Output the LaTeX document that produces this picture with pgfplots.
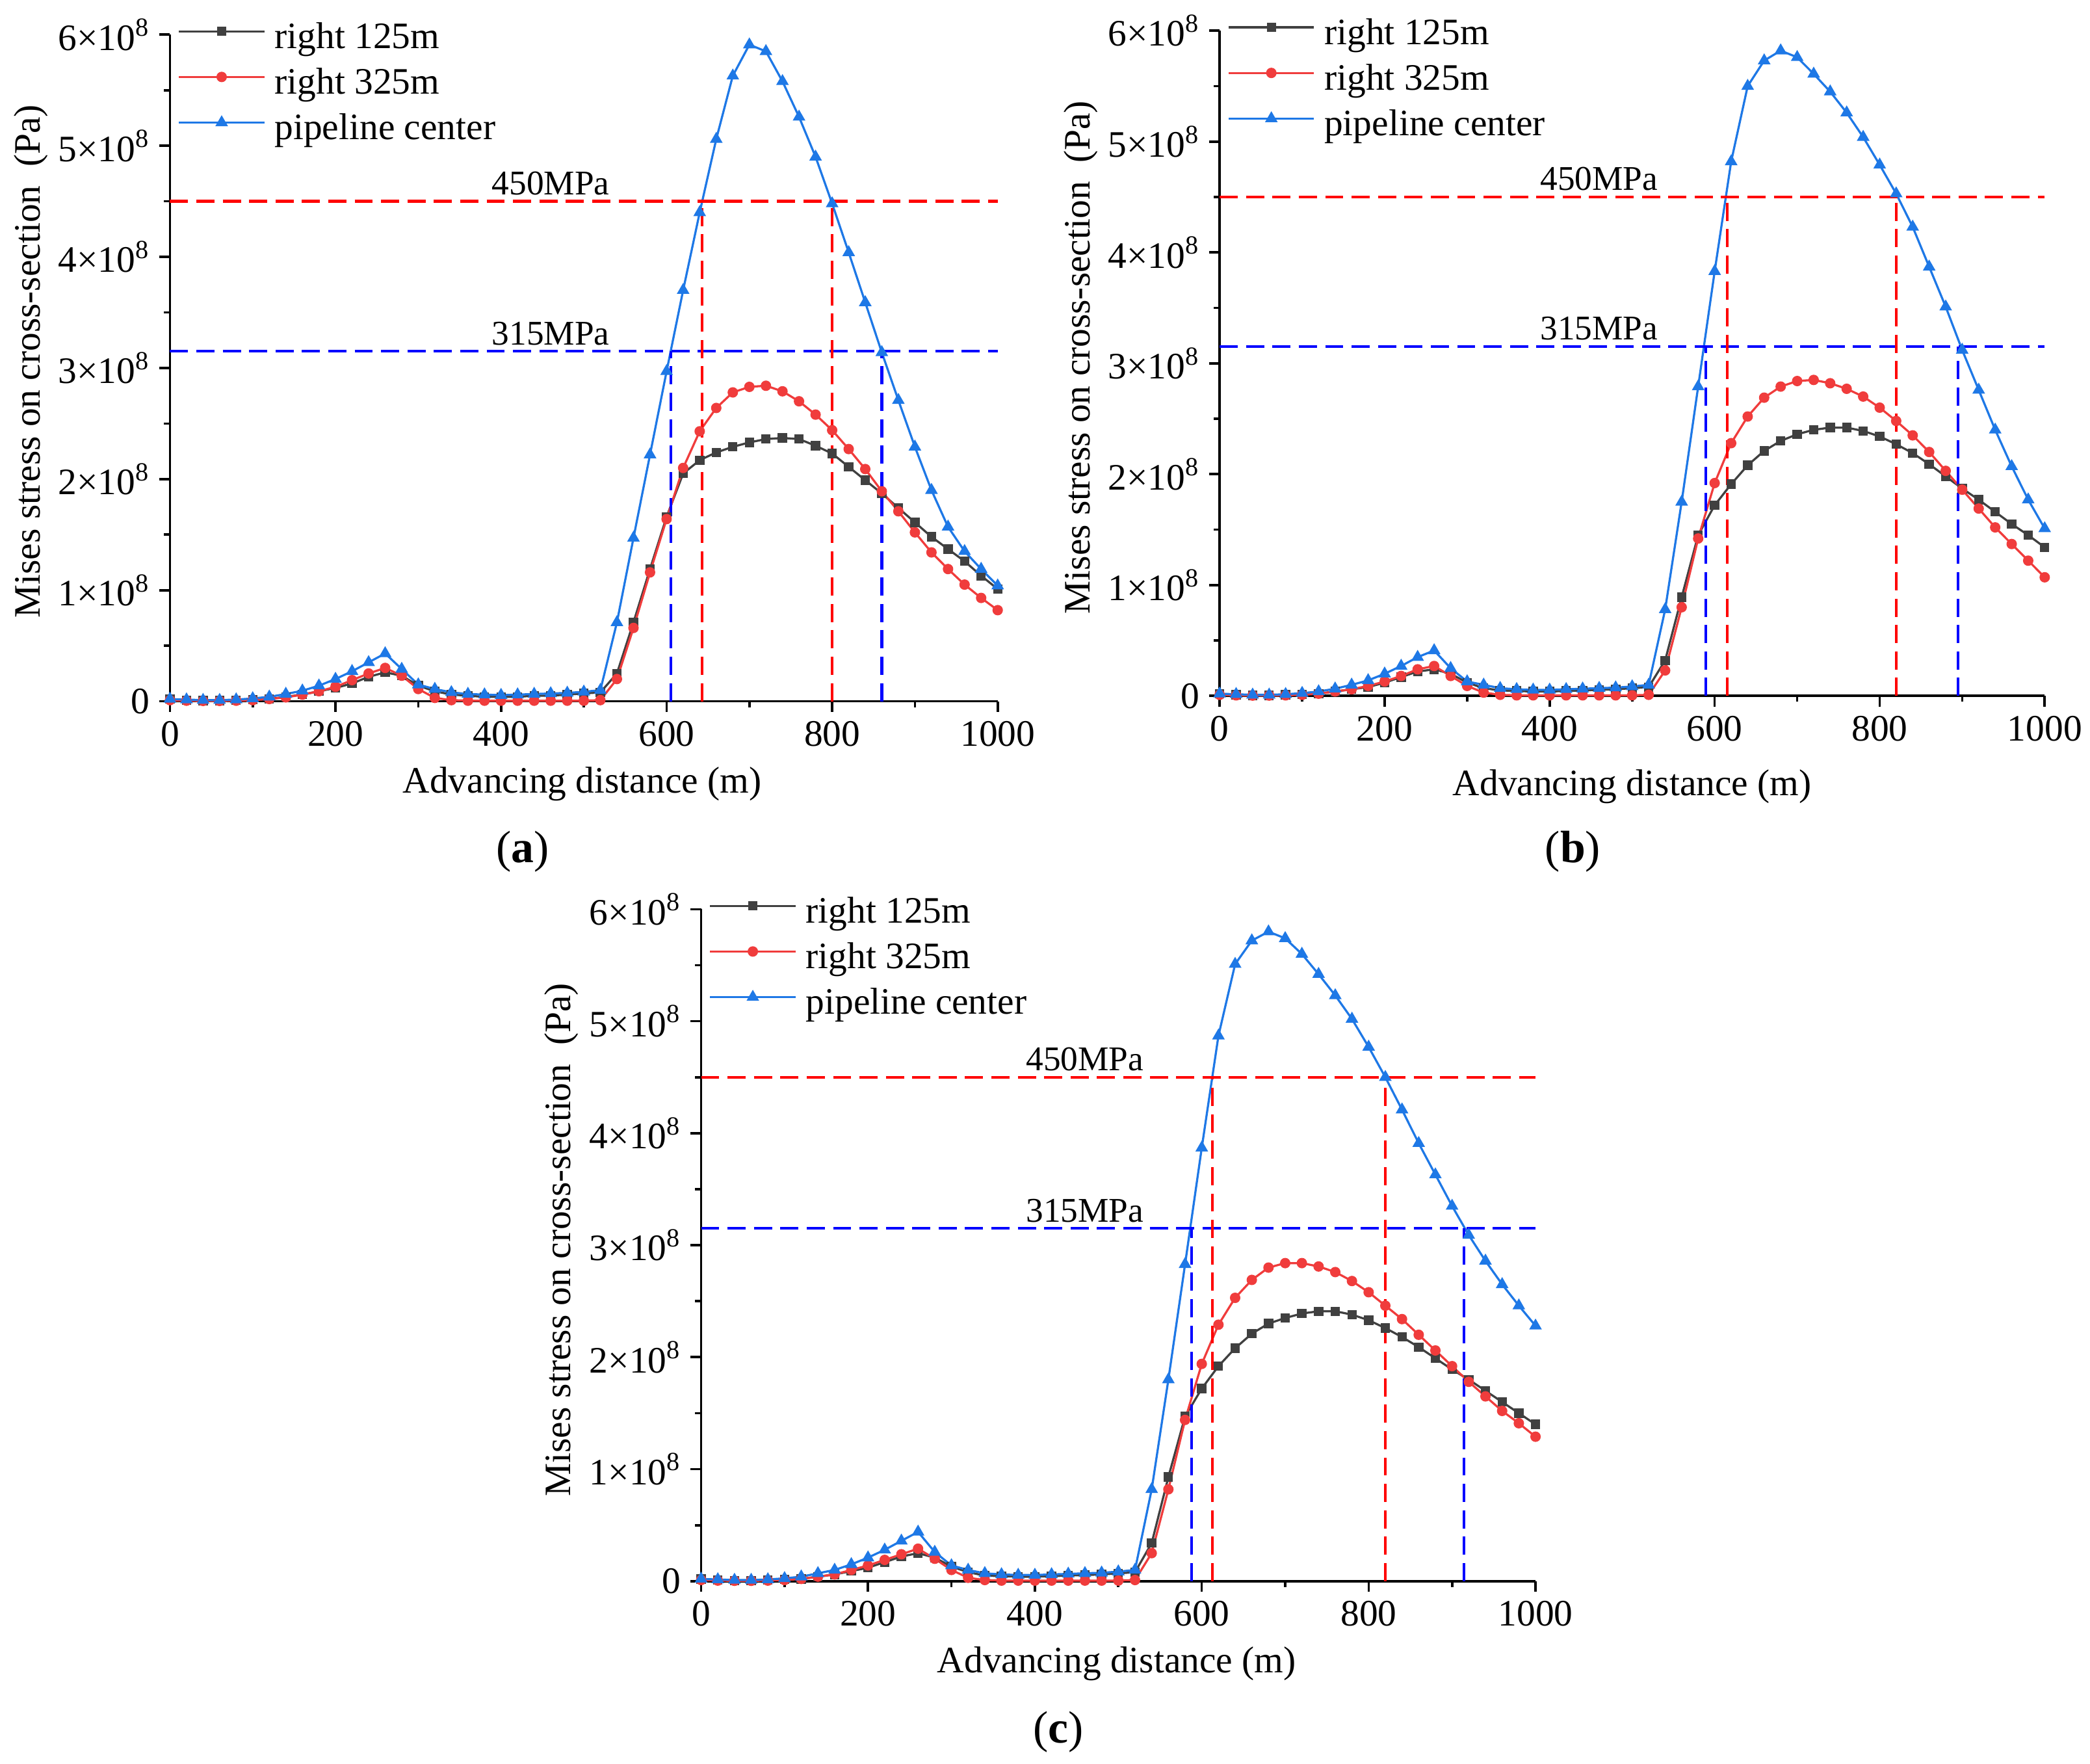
\documentclass[border=0pt]{standalone}
\usepackage{fontspec}
\setmainfont{Liberation Serif}
\usepackage{pgfplots}
\usepackage{pgfplotstable}
\pgfplotsset{compat=1.18}

\definecolor{cblk}{RGB}{64,64,64}
\definecolor{cred}{RGB}{240,60,60}
\definecolor{cblu}{RGB}{30,120,230}
\definecolor{dred}{RGB}{255,0,0}
\definecolor{dblu}{RGB}{0,0,255}

\pgfplotstableread{
x k r b
0 0.02 0.01 0.02
20 0.01 0.005 0.015
40 0.005 0.003 0.01
60 0.005 0.003 0.01
80 0.01 0.005 0.015
100 0.015 0.01 0.025
120 0.02 0.02 0.04
140 0.04 0.035 0.065
160 0.06 0.06 0.095
180 0.09 0.09 0.14
200 0.12 0.13 0.2
220 0.16 0.19 0.27
240 0.22 0.25 0.35
260 0.26 0.30 0.43
280 0.23 0.23 0.29
300 0.14 0.11 0.15
320 0.09 0.03 0.11
340 0.06 0.01 0.08
360 0.05 0.005 0.065
380 0.04 0.005 0.06
400 0.04 0.005 0.055
420 0.04 0.005 0.06
440 0.05 0.005 0.065
460 0.05 0.005 0.07
480 0.06 0.005 0.075
500 0.07 0.005 0.085
520 0.08 0.01 0.1
540 0.25 0.2 0.71
560 0.71 0.66 1.47
580 1.19 1.16 2.22
600 1.66 1.64 2.97
620 2.05 2.10 3.70
640 2.17 2.43 4.40
660 2.24 2.64 5.06
680 2.29 2.78 5.63
700 2.33 2.83 5.91
720 2.36 2.84 5.85
740 2.37 2.79 5.58
760 2.36 2.70 5.26
780 2.30 2.58 4.90
800 2.23 2.44 4.48
820 2.11 2.27 4.04
840 1.99 2.09 3.59
860 1.87 1.89 3.14
880 1.74 1.71 2.71
900 1.61 1.52 2.29
920 1.48 1.34 1.90
940 1.37 1.19 1.57
960 1.26 1.05 1.35
980 1.13 0.93 1.19
1000 1.01 0.82 1.04
}\dataA

\pgfplotstableread{
x k r b
0 0.02 0.01 0.02
20 0.01 0.005 0.015
40 0.005 0.003 0.01
60 0.005 0.003 0.01
80 0.01 0.005 0.015
100 0.015 0.01 0.025
120 0.02 0.02 0.04
140 0.04 0.04 0.065
160 0.06 0.06 0.1
180 0.08 0.09 0.14
200 0.12 0.13 0.2
220 0.17 0.18 0.27
240 0.22 0.24 0.35
260 0.24 0.27 0.41
280 0.20 0.18 0.25
300 0.12 0.09 0.13
320 0.07 0.03 0.1
340 0.05 0.01 0.07
360 0.045 0.005 0.06
380 0.04 0.005 0.055
400 0.04 0.005 0.055
420 0.045 0.005 0.06
440 0.05 0.005 0.065
460 0.055 0.005 0.07
480 0.06 0.005 0.075
500 0.07 0.005 0.085
520 0.08 0.01 0.1
540 0.32 0.23 0.78
560 0.89 0.80 1.75
580 1.45 1.42 2.79
600 1.72 1.92 3.83
620 1.91 2.28 4.82
640 2.08 2.52 5.50
660 2.21 2.69 5.73
680 2.30 2.79 5.82
700 2.36 2.84 5.76
720 2.40 2.85 5.61
740 2.42 2.82 5.45
760 2.42 2.77 5.26
780 2.39 2.70 5.04
800 2.34 2.60 4.79
820 2.27 2.48 4.53
840 2.19 2.35 4.23
860 2.09 2.20 3.87
880 1.98 2.03 3.51
900 1.87 1.86 3.12
920 1.77 1.69 2.76
940 1.66 1.52 2.40
960 1.55 1.37 2.07
980 1.45 1.22 1.77
1000 1.34 1.07 1.51
}\dataB

\pgfplotstableread{
x k r b
0 0.02 0.01 0.02
20 0.01 0.005 0.015
40 0.005 0.003 0.01
60 0.005 0.003 0.01
80 0.01 0.005 0.015
100 0.015 0.01 0.025
120 0.02 0.02 0.04
140 0.04 0.04 0.07
160 0.06 0.06 0.1
180 0.09 0.1 0.15
200 0.12 0.14 0.21
220 0.17 0.19 0.28
240 0.22 0.24 0.36
260 0.25 0.29 0.44
280 0.21 0.20 0.26
300 0.13 0.10 0.14
320 0.08 0.03 0.1
340 0.05 0.01 0.07
360 0.045 0.005 0.06
380 0.04 0.005 0.055
400 0.04 0.005 0.055
420 0.045 0.005 0.06
440 0.05 0.005 0.065
460 0.055 0.005 0.07
480 0.06 0.005 0.075
500 0.07 0.005 0.085
520 0.08 0.01 0.1
540 0.34 0.25 0.82
560 0.93 0.82 1.80
580 1.47 1.44 2.83
600 1.72 1.94 3.87
620 1.92 2.29 4.87
640 2.08 2.53 5.51
660 2.21 2.69 5.72
680 2.30 2.80 5.80
700 2.35 2.84 5.74
720 2.39 2.84 5.60
740 2.41 2.81 5.42
760 2.41 2.76 5.23
780 2.38 2.68 5.02
800 2.33 2.58 4.77
820 2.26 2.46 4.50
840 2.18 2.34 4.21
860 2.09 2.20 3.91
880 1.99 2.06 3.63
900 1.89 1.92 3.35
920 1.80 1.78 3.09
940 1.70 1.65 2.86
960 1.60 1.52 2.65
980 1.50 1.41 2.46
1000 1.40 1.29 2.28
}\dataC

\pgfplotsset{
  panel/.style={
    scale only axis,
    xmin=0, xmax=1000, ymin=0, ymax=6,
    axis lines*=left,
    axis line style={-, line width=0.9pt},
    tick align=outside,
    major tick length=4pt, minor tick length=2.2pt,
    tick style={line width=0.9pt, black},
    xtick={0,200,400,600,800,1000},
    xticklabels={0,200,400,600,800,1000},
    ytick={0,1,2,3,4,5,6},
    yticklabels={0,{1×10\textsuperscript{8}},{2×10\textsuperscript{8}},{3×10\textsuperscript{8}},{4×10\textsuperscript{8}},{5×10\textsuperscript{8}},{6×10\textsuperscript{8}}},
    minor x tick num=1, minor y tick num=1,
    tick label style={font=\fontsize{14}{16}\selectfont},
    label style={font=\fontsize{14}{16}\selectfont},
    xlabel={Advancing distance (m)},
    ylabel={Mises stress on cross-section~~(Pa)},
    clip=false,
    legend cell align=left,
    legend style={draw=none, fill=none, at={(axis description cs:0,1)}, anchor=north west,
      inner sep=0pt, outer sep=0pt, yshift=4.8pt, xshift=3pt,
      font=\fontsize{14}{16}\selectfont, row sep=3.6pt,
      nodes={inner sep=0pt, text height=10pt, text depth=3.5pt},
      /tikz/every odd column/.append style={column sep=3.5pt}},
    legend image code/.code={\draw[mark repeat=2,mark phase=2,#1,yshift=3.2pt] plot coordinates {(0pt,0pt) (16pt,0pt) (32pt,0pt)};},
  },
  sk/.style={color=cblk, line width=0.8pt, mark=square*, mark size=1.35pt, mark options={solid}},
  sr/.style={color=cred, line width=0.8pt, mark=*, mark size=1.55pt, mark options={solid}},
  sb/.style={color=cblu, line width=0.8pt, mark=triangle*, mark size=1.95pt, mark options={solid}},
  thr/.style={line width=1.05pt, dash pattern=on 6.8pt off 3.1pt, forget plot, mark=none},
}

\newcommand{\anno}[2]{\node[font=\fontsize{13}{15}\selectfont, anchor=base, inner sep=0pt, yshift=2.5pt] at (axis cs:460,#1) {#2};}

\begin{document}
\begin{tikzpicture}
\path[use as bounding box] (0pt,0pt) rectangle (784pt,-661.5pt);

% (a)
\begin{axis}[panel, at={(63.75pt,-263pt)}, anchor=south west, width=310.5pt, height=250pt,
  xlabel style={at={(axis description cs:0.498,-0.124)}, anchor=center},
  ylabel style={at={(axis description cs:-0.168,0.51)}, anchor=center, rotate=0}]
\addplot[sk] table[x=x,y=k] {\dataA};
\addlegendentry{right 125m}
\addplot[sr] table[x=x,y=r] {\dataA};
\addlegendentry{right 325m}
\addplot[sb] table[x=x,y=b] {\dataA};
\addlegendentry{pipeline center}
\addplot[thr, dred] coordinates {(0,4.5) (1000,4.5)};
\addplot[thr, dblu] coordinates {(0,3.15) (1000,3.15)};
\addplot[thr, dred] coordinates {(643,0) (643,4.5)};
\addplot[thr, dred] coordinates {(800,0) (800,4.5)};
\addplot[thr, dblu] coordinates {(605,0) (605,3.15)};
\addplot[thr, dblu] coordinates {(860,0) (860,3.15)};
\anno{4.5}{450MPa}
\anno{3.15}{315MPa}
\end{axis}

% (b)
\begin{axis}[panel, at={(457.5pt,-261pt)}, anchor=south west, width=309.5pt, height=249.5pt,
  xlabel style={at={(axis description cs:0.5,-0.136)}, anchor=center},
  ylabel style={at={(axis description cs:-0.168,0.509)}, anchor=center, rotate=0}]
\addplot[sk] table[x=x,y=k] {\dataB};
\addlegendentry{right 125m}
\addplot[sr] table[x=x,y=r] {\dataB};
\addlegendentry{right 325m}
\addplot[sb] table[x=x,y=b] {\dataB};
\addlegendentry{pipeline center}
\addplot[thr, dred] coordinates {(0,4.5) (1000,4.5)};
\addplot[thr, dblu] coordinates {(0,3.15) (1000,3.15)};
\addplot[thr, dred] coordinates {(615,0) (615,4.5)};
\addplot[thr, dred] coordinates {(820,0) (820,4.5)};
\addplot[thr, dblu] coordinates {(589,0) (589,3.15)};
\addplot[thr, dblu] coordinates {(895,0) (895,3.15)};
\anno{4.5}{450MPa}
\anno{3.15}{315MPa}
\end{axis}

% (c)
\begin{axis}[panel, at={(263pt,-593pt)}, anchor=south west, width=313pt, height=252pt,
  xlabel style={at={(axis description cs:0.498,-0.123)}, anchor=center},
  ylabel style={at={(axis description cs:-0.167,0.508)}, anchor=center, rotate=0}]
\addplot[sk] table[x=x,y=k] {\dataC};
\addlegendentry{right 125m}
\addplot[sr] table[x=x,y=r] {\dataC};
\addlegendentry{right 325m}
\addplot[sb] table[x=x,y=b] {\dataC};
\addlegendentry{pipeline center}
\addplot[thr, dred] coordinates {(0,4.5) (1000,4.5)};
\addplot[thr, dblu] coordinates {(0,3.15) (1000,3.15)};
\addplot[thr, dred] coordinates {(613,0) (613,4.5)};
\addplot[thr, dred] coordinates {(820,0) (820,4.5)};
\addplot[thr, dblu] coordinates {(588,0) (588,3.15)};
\addplot[thr, dblu] coordinates {(914,0) (914,3.15)};
\anno{4.5}{450MPa}
\anno{3.15}{315MPa}
\end{axis}

\node[font=\fontsize{17}{19}\selectfont] at (196pt,-319.5pt) {(\textbf{a})};
\node[font=\fontsize{17}{19}\selectfont] at (590pt,-319.5pt) {(\textbf{b})};
\node[font=\fontsize{17}{19}\selectfont] at (397pt,-649.5pt) {(\textbf{c})};
\end{tikzpicture}
\end{document}
